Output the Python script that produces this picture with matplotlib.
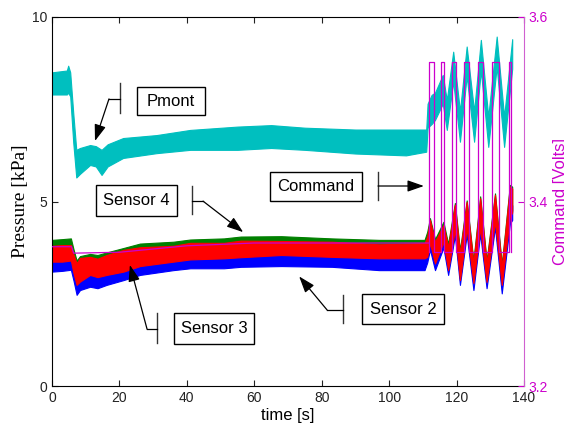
#!/usr/bin/env python3
"""
Pressure sensors / Pmont vs. time with the valve command on a second axis.
"""

import matplotlib
matplotlib.use("Agg")
import matplotlib.pyplot as plt
from matplotlib.patches import Rectangle


# ============================================================
# DATA (noise bands as min/max)
# ============================================================

# Pmont (cyan)
cyan_t = [0, 4.4, 4.8, 5.4, 6.3, 7.2, 8.3, 11.3, 13, 14.7, 16.5, 21.1, 31, 41, 55, 65, 75, 90, 105, 111.0, 111.4,
          112.6, 113.6, 115.9, 117.1, 119.0, 121.0, 123.0, 125.2, 127.2, 129.4, 131.9, 134.1, 136.5]
cyan_hi = [8.50, 8.55, 8.68, 8.50, 7.40, 6.40, 6.45, 6.53, 6.50, 6.40, 6.55, 6.72, 6.80, 6.94, 7.03, 7.07, 7.00,
           6.95, 6.95, 6.95, 7.65,
           7.89, 7.95, 8.43, 7.75, 9.06, 7.45, 9.20, 7.45, 9.38, 7.30, 9.47, 7.30, 9.40]
cyan_lo = [7.90, 7.90, 7.95, 7.85, 6.60, 5.65, 5.75, 5.99, 5.95, 5.72, 5.95, 6.18, 6.31, 6.40, 6.40, 6.45, 6.40,
           6.30, 6.25, 6.35, 7.00,
           7.10, 7.21, 7.65, 6.94, 8.25, 6.62, 8.40, 6.62, 8.55, 6.48, 8.65, 6.48, 8.60]

# Sensors 2 / 3 / 4 share one time base
sens_t = [0, 3, 5.6, 6.4, 7.3, 8.3, 11.3, 13.5, 16.2, 21.2, 26.1, 36, 41, 51, 56, 68, 83, 97, 110.5, 111.3,
          112.1, 113.6, 116.1, 117.5, 119.5, 121.0, 123.0, 125.0, 127.0, 128.9, 131.4, 133.4, 135.8, 136.5]

# Sensor 4 (green)
s4_hi = [3.96, 3.98, 4.00, 3.70, 3.40, 3.52, 3.58, 3.55, 3.62, 3.74, 3.86, 3.91, 3.97, 4.00, 4.05, 4.06, 4.00,
         3.96, 3.96, 4.18,
         4.55, 3.98, 4.45, 3.85, 4.96, 3.68, 5.03, 3.40, 5.14, 3.40, 5.22, 3.30, 5.45, 5.40]
s4_lo = [3.45, 3.45, 3.48, 3.15, 2.85, 2.95, 3.10, 3.05, 3.10, 3.20, 3.35, 3.45, 3.50, 3.55, 3.58, 3.62, 3.58,
         3.55, 3.55, 3.60,
         3.95, 3.38, 3.98, 3.20, 4.30, 2.92, 4.32, 2.85, 4.33, 2.88, 4.50, 2.80, 4.65, 4.75]

# Sensor 3 (red)
s3_hi = [3.80, 3.82, 3.82, 3.55, 3.33, 3.47, 3.50, 3.45, 3.55, 3.69, 3.76, 3.80, 3.88, 3.88, 3.94, 3.93, 3.91,
         3.84, 3.87, 4.05,
         4.50, 3.91, 4.36, 3.77, 4.91, 3.60, 4.99, 3.33, 5.09, 3.33, 5.18, 3.23, 5.40, 5.35]
s3_lo = [3.37, 3.37, 3.40, 3.05, 2.74, 2.83, 3.01, 2.95, 3.01, 3.10, 3.25, 3.37, 3.43, 3.46, 3.49, 3.55, 3.50,
         3.46, 3.46, 3.50,
         3.87, 3.32, 3.90, 3.14, 4.23, 2.87, 4.27, 2.79, 4.27, 2.82, 4.45, 2.74, 4.59, 4.70]

# Sensor 2 (blue)
s2_hi = [3.60, 3.60, 3.62, 3.30, 3.00, 3.10, 3.25, 3.20, 3.25, 3.35, 3.50, 3.60, 3.65, 3.68, 3.70, 3.75, 3.70,
         3.65, 3.65, 3.75,
         4.10, 3.55, 4.10, 3.40, 4.50, 3.10, 4.55, 3.00, 4.55, 3.00, 4.70, 2.95, 4.85, 4.90]
s2_lo = [3.10, 3.12, 3.15, 2.85, 2.47, 2.60, 2.69, 2.65, 2.74, 2.87, 3.01, 3.14, 3.19, 3.19, 3.23, 3.25, 3.23,
         3.14, 3.14, 3.35,
         3.70, 3.14, 3.75, 3.01, 4.08, 2.74, 4.10, 2.60, 4.12, 2.65, 4.30, 2.51, 4.40, 4.50]

# Command [Volts]
cmd_t = [0, 5.8, 6.4, 20, 40, 60, 111.9]
cmd_v = [3.351, 3.351, 3.344, 3.345, 3.352, 3.355, 3.355]
pulse_on = [111.9, 115.5, 118.7, 122.2, 126.3, 130.5, 135.5]
pulse_off = [113.2, 116.4, 119.8, 123.8, 127.8, 132.7, 136.2]
cmd_high = 3.551
cmd_low = 3.345

x_ticks = [0, 20, 40, 60, 80, 100, 120, 140]
y_ticks = [0, 5, 10]
y2_ticks = [3.2, 3.4, 3.6]


# ============================================================
# STYLE
# ============================================================

CYAN = "#00bfbf"
GREEN = "#008000"
RED = "#ff0000"
BLUE = "#0000ff"
MAGENTA = "#cc00cc"
SPINE_MAG = "#d060d0"

plt.rcParams["font.family"] = ["Liberation Sans", "DejaVu Sans"]


def band(ax, t, lo, hi, color):
    ax.fill_between(t, lo, hi, color=color, linewidth=0.8, edgecolor=color)


def p2v(p):
    # pressure value -> right axis value (both axes span the same height)
    return 3.2 + p * 0.04


def callout(ax, label, box, bar_x, bar_y, elbow, tip):
    """MATLAB-ish text box + bar + arrow, given in (time, pressure)."""
    x0, x1, y0, y1 = box
    ax.add_patch(Rectangle((x0, p2v(y0)), x1 - x0, p2v(y1) - p2v(y0), facecolor="white",
                           edgecolor="black", linewidth=1.0, zorder=6))
    ax.text((x0 + x1) / 2, p2v((y0 + y1) / 2), label, ha="center", va="center",
            fontsize=12, zorder=7)
    ax.plot([bar_x, bar_x], [p2v(bar_y[0]), p2v(bar_y[1])], color="#333333",
            linewidth=1.0, zorder=6)
    ax.plot([bar_x, elbow[0]], [p2v(elbow[1])] * 2, color="black", linewidth=0.9, zorder=6)
    ax.annotate("", xy=(tip[0], p2v(tip[1])), xytext=(elbow[0], p2v(elbow[1])),
                arrowprops=dict(arrowstyle="-|>,head_length=1.0,head_width=0.35",
                                color="black", linewidth=0.9, shrinkA=0, shrinkB=0),
                zorder=6)


# ============================================================
# PLOT
# ============================================================

fig = plt.figure(figsize=(5.64, 4.29), dpi=100)
ax = fig.add_axes([52 / 564, 43 / 429, 472 / 564, 369 / 429])

band(ax, cyan_t, cyan_lo, cyan_hi, CYAN)
band(ax, sens_t, s4_lo, s4_hi, GREEN)
band(ax, sens_t, s2_lo, s2_hi, BLUE)
band(ax, sens_t, s3_lo, s3_hi, RED)

ax.set_xlim(0, 140)
ax.set_ylim(0, 10)
ax.set_xticks(x_ticks)
ax.set_yticks(y_ticks)
ax.tick_params(direction="in", length=4, labelsize=10, top=True, right=False,
               colors="#222222")
ax.spines["right"].set_visible(False)
ax.set_xlabel("time [s]", fontsize=12, labelpad=2)
ax.set_ylabel("Pressure [kPa]", fontsize=14, family="Liberation Serif", labelpad=2)

# command on the right axis
ax2 = ax.twinx()
ax2.plot(cmd_t, cmd_v, color=MAGENTA, linewidth=0.9)
step_t, step_v = [], []
for on, off in zip(pulse_on, pulse_off):
    step_t += [on, on, off, off]
    step_v += [cmd_low, cmd_high, cmd_high, cmd_low]
ax2.plot(step_t, step_v, color=MAGENTA, linewidth=0.9)
ax2.set_ylim(3.2, 3.6)
ax2.set_yticks(y2_ticks)
ax2.tick_params(direction="in", length=4, labelsize=10, colors=MAGENTA)
ax2.spines["right"].set_color(SPINE_MAG)
for s in ["left", "top", "bottom"]:
    ax2.spines[s].set_visible(False)
ax2.set_ylabel("Command [Volts]", fontsize=12, color=MAGENTA)
ax2.yaxis.set_label_coords(1.062, 0.5)

# annotations drawn on top of everything
callout(ax2, "Pmont", (25.2, 45.4, 7.34, 8.10), 20.2, (7.40, 8.21), (16.9, 7.78), (12.75, 6.64))
callout(ax2, "Sensor 4", (13.05, 37.1, 4.61, 5.45), 41.5, (4.66, 5.42), (44.8, 5.01), (56.7, 4.17))
callout(ax2, "Command", (64.7, 92.0, 5.01, 5.80), 96.7, (5.04, 5.80), (96.7, 5.42), (110.3, 5.42))
callout(ax2, "Sensor 3", (36.2, 59.9, 1.14, 1.98), 31.1, (1.17, 1.98), (28.2, 1.54), (23.1, 3.28))
callout(ax2, "Sensor 2", (91.9, 116.3, 1.68, 2.49), 86.3, (1.71, 2.47), (81.6, 2.06), (73.3, 2.97))

fig.savefig("out.png", dpi=100)
